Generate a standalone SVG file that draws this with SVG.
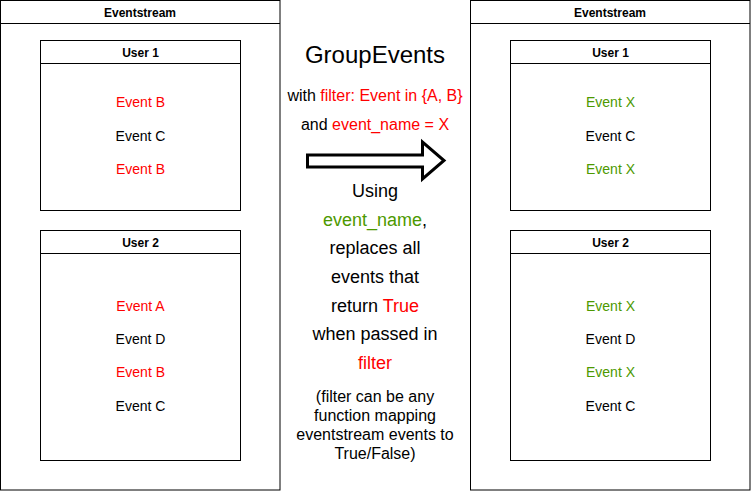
<svg xmlns="http://www.w3.org/2000/svg" width="751" height="491" viewBox="0 0 751 491">
<style>
.box{fill:#fff;stroke:#000;stroke-width:1}
.hd{font-family:"Liberation Sans",Arial,sans-serif;font-size:12px;font-weight:bold;fill:#000;text-anchor:middle}
.ev{font-family:"Liberation Sans",Arial,sans-serif;font-size:14px;fill:#000;text-anchor:middle}
.t{font-family:"Liberation Sans",Arial,sans-serif;fill:#000;text-anchor:middle}
.r{fill:#FF0000}
.g{fill:#4D9900}
</style>
<rect width="751" height="491" fill="#fff"/>
<g id="left-eventstream">
<rect class="box" x="0.5" y="0.5" width="279.5" height="489.5"/>
<line class="box" x1="0.5" y1="23.5" x2="280" y2="23.5"/>
<text class="hd" x="140" y="16.7">Eventstream</text>
</g>
<g id="left-user1">
<rect class="box" x="40.5" y="40.5" width="200" height="170"/>
<line class="box" x1="40.5" y1="63.5" x2="240.5" y2="63.5"/>
<text class="hd" x="140.5" y="56.7">User 1</text>
<text class="ev r" x="140.5" y="107.3">Event B</text>
<text class="ev" x="140.5" y="140.7">Event C</text>
<text class="ev r" x="140.5" y="174">Event B</text>
</g>
<g id="left-user2">
<rect class="box" x="40.5" y="230.5" width="200" height="230"/>
<line class="box" x1="40.5" y1="253.5" x2="240.5" y2="253.5"/>
<text class="hd" x="140.5" y="247.3">User 2</text>
<text class="ev r" x="140.5" y="310.7">Event A</text>
<text class="ev" x="140.5" y="344">Event D</text>
<text class="ev r" x="140.5" y="377.3">Event B</text>
<text class="ev" x="140.5" y="410.7">Event C</text>
</g>
<g id="right-eventstream">
<rect class="box" x="470.5" y="0.5" width="279.5" height="489.5"/>
<line class="box" x1="470.5" y1="23.5" x2="750" y2="23.5"/>
<text class="hd" x="610" y="16.7">Eventstream</text>
</g>
<g id="right-user1">
<rect class="box" x="510.5" y="40.5" width="200" height="170"/>
<line class="box" x1="510.5" y1="63.5" x2="710.5" y2="63.5"/>
<text class="hd" x="610.5" y="56.7">User 1</text>
<text class="ev g" x="610.5" y="107.3">Event X</text>
<text class="ev" x="610.5" y="140.7">Event C</text>
<text class="ev g" x="610.5" y="174">Event X</text>
</g>
<g id="right-user2">
<rect class="box" x="510.5" y="230.5" width="200" height="230"/>
<line class="box" x1="510.5" y1="253.5" x2="710.5" y2="253.5"/>
<text class="hd" x="610.5" y="247.3">User 2</text>
<text class="ev g" x="610.5" y="310.7">Event X</text>
<text class="ev" x="610.5" y="344">Event D</text>
<text class="ev g" x="610.5" y="377.3">Event X</text>
<text class="ev" x="610.5" y="410.7">Event C</text>
</g>
<g id="connectors">
<polygon points="307.5,155 422.5,155 422.5,142 444,160.5 422.5,179 422.5,167 307.5,167" fill="#fff" stroke="#000" stroke-width="3" stroke-miterlimit="10"/>
</g>
<g id="description">
<text class="t" x="375" y="63.3" font-size="24">GroupEvents</text>
<text class="t" x="375" y="101" font-size="16">with <tspan class="r">filter: Event in {A, B}</tspan></text>
<text class="t" x="375" y="130" font-size="16">and <tspan class="r">event_name = X</tspan></text>
<g font-size="18">
<text class="t" x="375" y="197">Using</text>
<text class="t" x="375" y="225.7"><tspan class="g">event_name</tspan>,</text>
<text class="t" x="375" y="254.4">replaces all</text>
<text class="t" x="375" y="283">events that</text>
<text class="t" x="375" y="311.7">return <tspan class="r">True</tspan></text>
<text class="t" x="375" y="340.4">when passed in</text>
<text class="t r" x="375" y="369">filter</text>
</g>
<g font-size="16">
<text class="t" x="375" y="401.7">(filter can be any</text>
<text class="t" x="375" y="420.7">function mapping</text>
<text class="t" x="375" y="440">eventstream events to</text>
<text class="t" x="375" y="458.7">True/False)</text>
</g>
</g>
</svg>
